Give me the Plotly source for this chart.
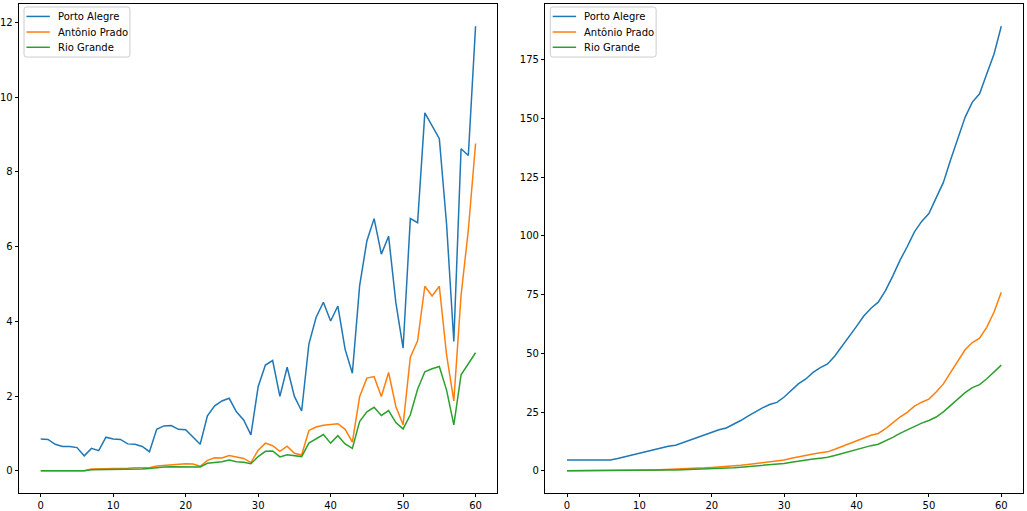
import plotly.graph_objects as go
from plotly.subplots import make_subplots

days = list(range(61))

# daily values (left panel)
porto_alegre_daily = [
    0.85, 0.84, 0.71, 0.65, 0.65, 0.62, 0.40, 0.60, 0.54, 0.90,
    0.85, 0.84, 0.72, 0.71, 0.65, 0.51, 1.11, 1.20, 1.21, 1.11,
    1.10, 0.91, 0.71, 1.47, 1.74, 1.87, 1.94, 1.58, 1.36, 0.96,
    2.25, 2.83, 2.95, 1.99, 2.77, 1.99, 1.60, 3.39, 4.11, 4.51,
    4.01, 4.41, 3.25, 2.61, 4.95, 6.15, 6.75, 5.80, 6.28, 4.50,
    3.28, 6.75, 6.64, 9.58, 9.22, 8.89, 6.60, 3.46, 8.62, 8.44,
    11.90,
]
antonio_prado_daily = [
    0.0, 0.0, 0.0, 0.0, 0.0, 0.0, 0.0, 0.05, 0.05, 0.07,
    0.07, 0.07, 0.07, 0.08, 0.08, 0.08, 0.13, 0.14, 0.17, 0.18,
    0.19, 0.18, 0.12, 0.28, 0.35, 0.34, 0.41, 0.37, 0.33, 0.22,
    0.55, 0.74, 0.67, 0.52, 0.66, 0.47, 0.42, 1.08, 1.17, 1.22,
    1.24, 1.26, 1.11, 0.77, 1.98, 2.48, 2.52, 1.99, 2.63, 1.72,
    1.23, 3.04, 3.48, 4.94, 4.68, 4.94, 3.10, 1.87, 4.70, 6.44,
    8.76,
]
rio_grande_daily = [
    0.0, 0.0, 0.0, 0.0, 0.0, 0.0, 0.0, 0.03, 0.03, 0.04,
    0.04, 0.04, 0.04, 0.05, 0.05, 0.06, 0.09, 0.10, 0.11, 0.11,
    0.12, 0.12, 0.10, 0.20, 0.22, 0.24, 0.29, 0.24, 0.23, 0.19,
    0.38, 0.52, 0.53, 0.37, 0.43, 0.41, 0.38, 0.74, 0.86, 0.97,
    0.74, 0.94, 0.72, 0.60, 1.32, 1.58, 1.70, 1.48, 1.61, 1.29,
    1.12, 1.50, 2.18, 2.65, 2.73, 2.79, 2.16, 1.23, 2.57, 2.86,
    3.16,
]

# accumulated values (right panel)
porto_alegre_total = [
    4.6, 4.6, 4.6, 4.6, 4.6, 4.6, 4.6, 5.2, 5.8, 6.7,
    7.5, 8.3, 9.1, 9.8, 10.4, 10.9, 12.0, 13.2, 14.4, 15.5,
    16.6, 17.5, 18.2, 19.7, 21.4, 23.3, 25.2, 26.8, 28.2, 29.1,
    31.4, 34.2, 37.1, 39.1, 41.9, 43.9, 45.5, 48.9, 53.0, 57.5,
    61.5, 65.9, 69.2, 71.8, 76.7, 82.9, 89.6, 95.4, 101.7, 106.2,
    109.5, 116.2, 122.8, 132.4, 141.6, 150.5, 157.0, 160.5, 169.1, 177.5,
    189.3,
]
antonio_prado_total = [
    0.0, 0.0, 0.0, 0.0, 0.0, 0.0, 0.0, 0.05, 0.1, 0.17,
    0.24, 0.31, 0.38, 0.46, 0.54, 0.62, 0.75, 0.89, 1.06, 1.24,
    1.43, 1.61, 1.73, 2.01, 2.36, 2.7, 3.11, 3.48, 3.81, 4.03,
    4.58, 5.32, 5.99, 6.51, 7.17, 7.64, 8.06, 9.14, 10.3, 11.5,
    12.8, 14.0, 15.1, 15.9, 17.9, 20.4, 22.9, 24.9, 27.5, 29.2,
    30.5, 33.5, 37.0, 41.9, 46.6, 51.5, 54.6, 56.5, 61.2, 67.6,
    76.0,
]
rio_grande_total = [
    0.0, 0.0, 0.0, 0.0, 0.0, 0.0, 0.0, 0.03, 0.06, 0.1,
    0.14, 0.18, 0.22, 0.27, 0.32, 0.38, 0.47, 0.57, 0.68, 0.79,
    0.91, 1.03, 1.13, 1.33, 1.55, 1.79, 2.08, 2.32, 2.55, 2.74,
    3.12, 3.64, 4.17, 4.54, 4.97, 5.38, 5.76, 6.5, 7.36, 8.33,
    9.07, 10.0, 10.7, 11.3, 12.7, 14.2, 15.9, 17.4, 19.0, 20.3,
    21.4, 22.9, 25.1, 27.8, 30.5, 33.3, 35.4, 36.7, 39.2, 42.1,
    45.0,
]

names = ["Porto Alegre", "Antônio Prado", "Rio Grande"]
colors = ["#1f77b4", "#ff7f0e", "#2ca02c"]
font = dict(family="DejaVu Sans", size=10, color="#000000")

fig = make_subplots(rows=1, cols=2)

left = [porto_alegre_daily, antonio_prado_daily, rio_grande_daily]
right = [porto_alegre_total, antonio_prado_total, rio_grande_total]

for col, series in ((1, left), (2, right)):
    for name, color, ys in zip(names, colors, series):
        fig.add_trace(go.Scatter(x=days, y=ys, mode="lines", name=name,
                                 line=dict(color=color, width=1.5),
                                 showlegend=False),
                      row=1, col=col)

axis_style = dict(
    showgrid=False, zeroline=False, showline=True, mirror=True,
    linecolor="#000000", linewidth=0.8, ticks="outside", ticklen=3.5,
    tickcolor="#000000", tickfont=font, automargin=False,
)

fig.update_xaxes(**axis_style, range=[-3, 63], tickvals=[0, 10, 20, 30, 40, 50, 60])
fig.update_xaxes(domain=[0, 0.4764], row=1, col=1)
fig.update_xaxes(domain=[0.5242, 1], row=1, col=2)
fig.update_yaxes(**axis_style)
fig.update_yaxes(range=[-0.595, 12.495], tickvals=[0, 2, 4, 6, 8, 10, 12], row=1, col=1)
fig.update_yaxes(range=[-9.465, 198.765], tickvals=[0, 25, 50, 75, 100, 125, 150, 175], row=1, col=2)

# matplotlib-style legend box (rounded frame) in the upper left corner of each panel
bx0, bx1, by0, by1 = 0.0105, 0.232, 0.8915, 0.9939
rx, ry = 0.005, 0.005
frame_path = (
    f"M {bx0 + rx},{by1} L {bx1 - rx},{by1} Q {bx1},{by1} {bx1},{by1 - ry} "
    f"L {bx1},{by0 + ry} Q {bx1},{by0} {bx1 - rx},{by0} "
    f"L {bx0 + rx},{by0} Q {bx0},{by0} {bx0},{by0 + ry} "
    f"L {bx0},{by1 - ry} Q {bx0},{by1} {bx0 + rx},{by1} Z"
)
shapes = []
annotations = []
entry_y = [0.9746, 0.9427, 0.9115]
for xa, ya in (("x", "y"), ("x2", "y2")):
    xref = xa + " domain"
    yref = ya + " domain"
    shapes.append(dict(type="path", path=frame_path, xref=xref, yref=yref,
                       line=dict(color="#cccccc", width=1),
                       fillcolor="rgba(255,255,255,0.8)", layer="above"))
    for name, color, ey in zip(names, colors, entry_y):
        shapes.append(dict(type="line", xref=xref, yref=yref,
                           x0=0.0155, x1=0.0645, y0=ey, y1=ey,
                           line=dict(color=color, width=1.5), layer="above"))
        annotations.append(dict(text=name, xref=xref, yref=yref,
                                x=0.0765, y=ey, xanchor="left", yanchor="middle",
                                showarrow=False, font=font))

fig.update_layout(
    width=1027, height=511,
    margin=dict(l=19, r=4, t=4, b=18),
    paper_bgcolor="white", plot_bgcolor="white",
    showlegend=False,
    shapes=shapes,
    annotations=annotations,
)

fig.write_html("out.html", config={"displayModeBar": False},
               post_script="document.body.style.margin='0';document.body.style.overflow='hidden';")
